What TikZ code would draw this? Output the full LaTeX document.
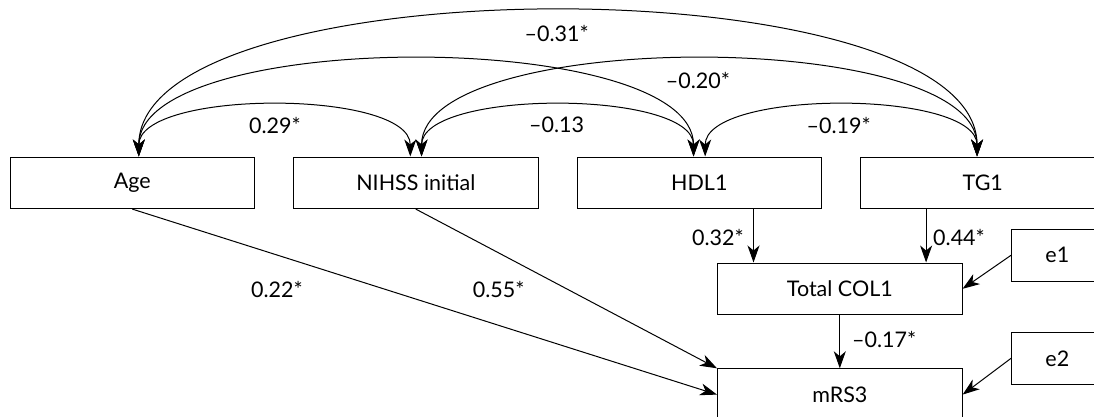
\documentclass[tikz,border=0pt]{standalone}
\usepackage{fontspec}
\setmainfont{Lato}
\usetikzlibrary{arrows.meta,calc}
\begin{document}
\begin{tikzpicture}[x=1pt,y=-1pt,
  box/.style={draw, line width=1.1pt, minimum width=244.5pt, minimum height=51.5pt, inner sep=0pt, anchor=north west, font=\fontsize{21.5}{24}\selectfont},
  lbl/.style={font=\fontsize{21.5}{24}\selectfont, inner sep=0pt},
  tipA/.tip={Stealth[length=17pt,width=12pt,inset=5pt]},
  arr/.style={line width=1pt, -tipA},
  cov/.style={line width=1pt, tipA-tipA}]
\useasboundingbox (0,0) rectangle (1094,417);
\clip (0,0) rectangle (1094,417);
% boxes
\node[box] (age) at (9.5,156.5) {Age};
\node[box] (nihss) at (293,156.5) {NIHSS initial};
\node[box] (hdl) at (576.5,156.5) {HDL1};
\node[box] (tg) at (860,156.5) {TG1};
\node[box] (tc) at (717,262.5) {Total COL1};
\node[box] (mrs) at (717,368.3) {mRS3};
\node[box, minimum width=91.5pt] (e1) at (1011,229) {e1};
\node[box, minimum width=91.5pt] (e2) at (1011,332) {e2};
% tip points
\coordinate (ageT) at ($(age.north)+(6.5,0)$);
\coordinate (nihL) at ($(nihss.north)+(-5.5,0)$);
\coordinate (nihR) at ($(nihss.north)+(5.75,0)$);
\coordinate (hdlL) at ($(hdl.north)+(-5.75,0)$);
\coordinate (hdlR) at ($(hdl.north)+(5.85,0)$);
\coordinate (tgT) at ($(tg.north)+(-5.75,0)$);
% covariance curves
\draw[cov] (ageT) .. controls ($(ageT)+(0,-67.3)$) and ($(nihL)+(0,-67.3)$) .. (nihL);
\draw[cov] (nihR) .. controls ($(nihR)+(0,-67.3)$) and ($(hdlL)+(0,-67.3)$) .. (hdlL);
\draw[cov] (hdlR) .. controls ($(hdlR)+(0,-67.3)$) and ($(tgT)+(0,-67.3)$) .. (tgT);
\draw[cov] (ageT) .. controls ($(ageT)+(0,-128.7)$) and ($(hdlL)+(0,-128.7)$) .. (hdlL);
\draw[cov] (nihR) .. controls ($(nihR)+(0,-128.7)$) and ($(tgT)+(0,-128.7)$) .. (tgT);
\draw[cov] (ageT) .. controls ($(ageT)+(0,-193)$) and ($(tgT)+(0,-193)$) .. (tgT);
% paths
\coordinate (c1) at ($(tc.north west)+(36.5,0)$);
\coordinate (c2) at ($(tc.north east)+(-36.5,0)$);
\draw[arr] (age.south) -- (mrs.west);
\draw[arr] (nihss.south) -- (mrs.north west);
\draw[arr] (hdl.south -| c1) -- (c1);
\draw[arr] (tg.south -| c2) -- (c2);
\draw[arr] (tc.south) -- (mrs.north);
\draw[arr] (e1.west) -- (tc.east);
\draw[arr] (e2.west) -- (mrs.east);
% labels
\node[lbl] (l1) at (556.7,33) {–0.31*};
\node[lbl] (l2) at (698,80) {–0.20*};
\node[lbl] (l3) at (275,125) {0.29*};
\node[lbl] (l4) at (556.7,125) {–0.13};
\node[lbl] (l5) at (838.6,125) {–0.19*};
\node[lbl, anchor=east] (l6) at (744,237) {0.32*};
\node[lbl, anchor=west] (l7) at (933,237) {0.44*};
\node[lbl] (l8) at (277,289) {0.22*};
\node[lbl] (l9) at (498.6,289) {0.55*};
\node[lbl, anchor=west] (l10) at (852,339) {–0.17*};
\end{tikzpicture}
\end{document}
